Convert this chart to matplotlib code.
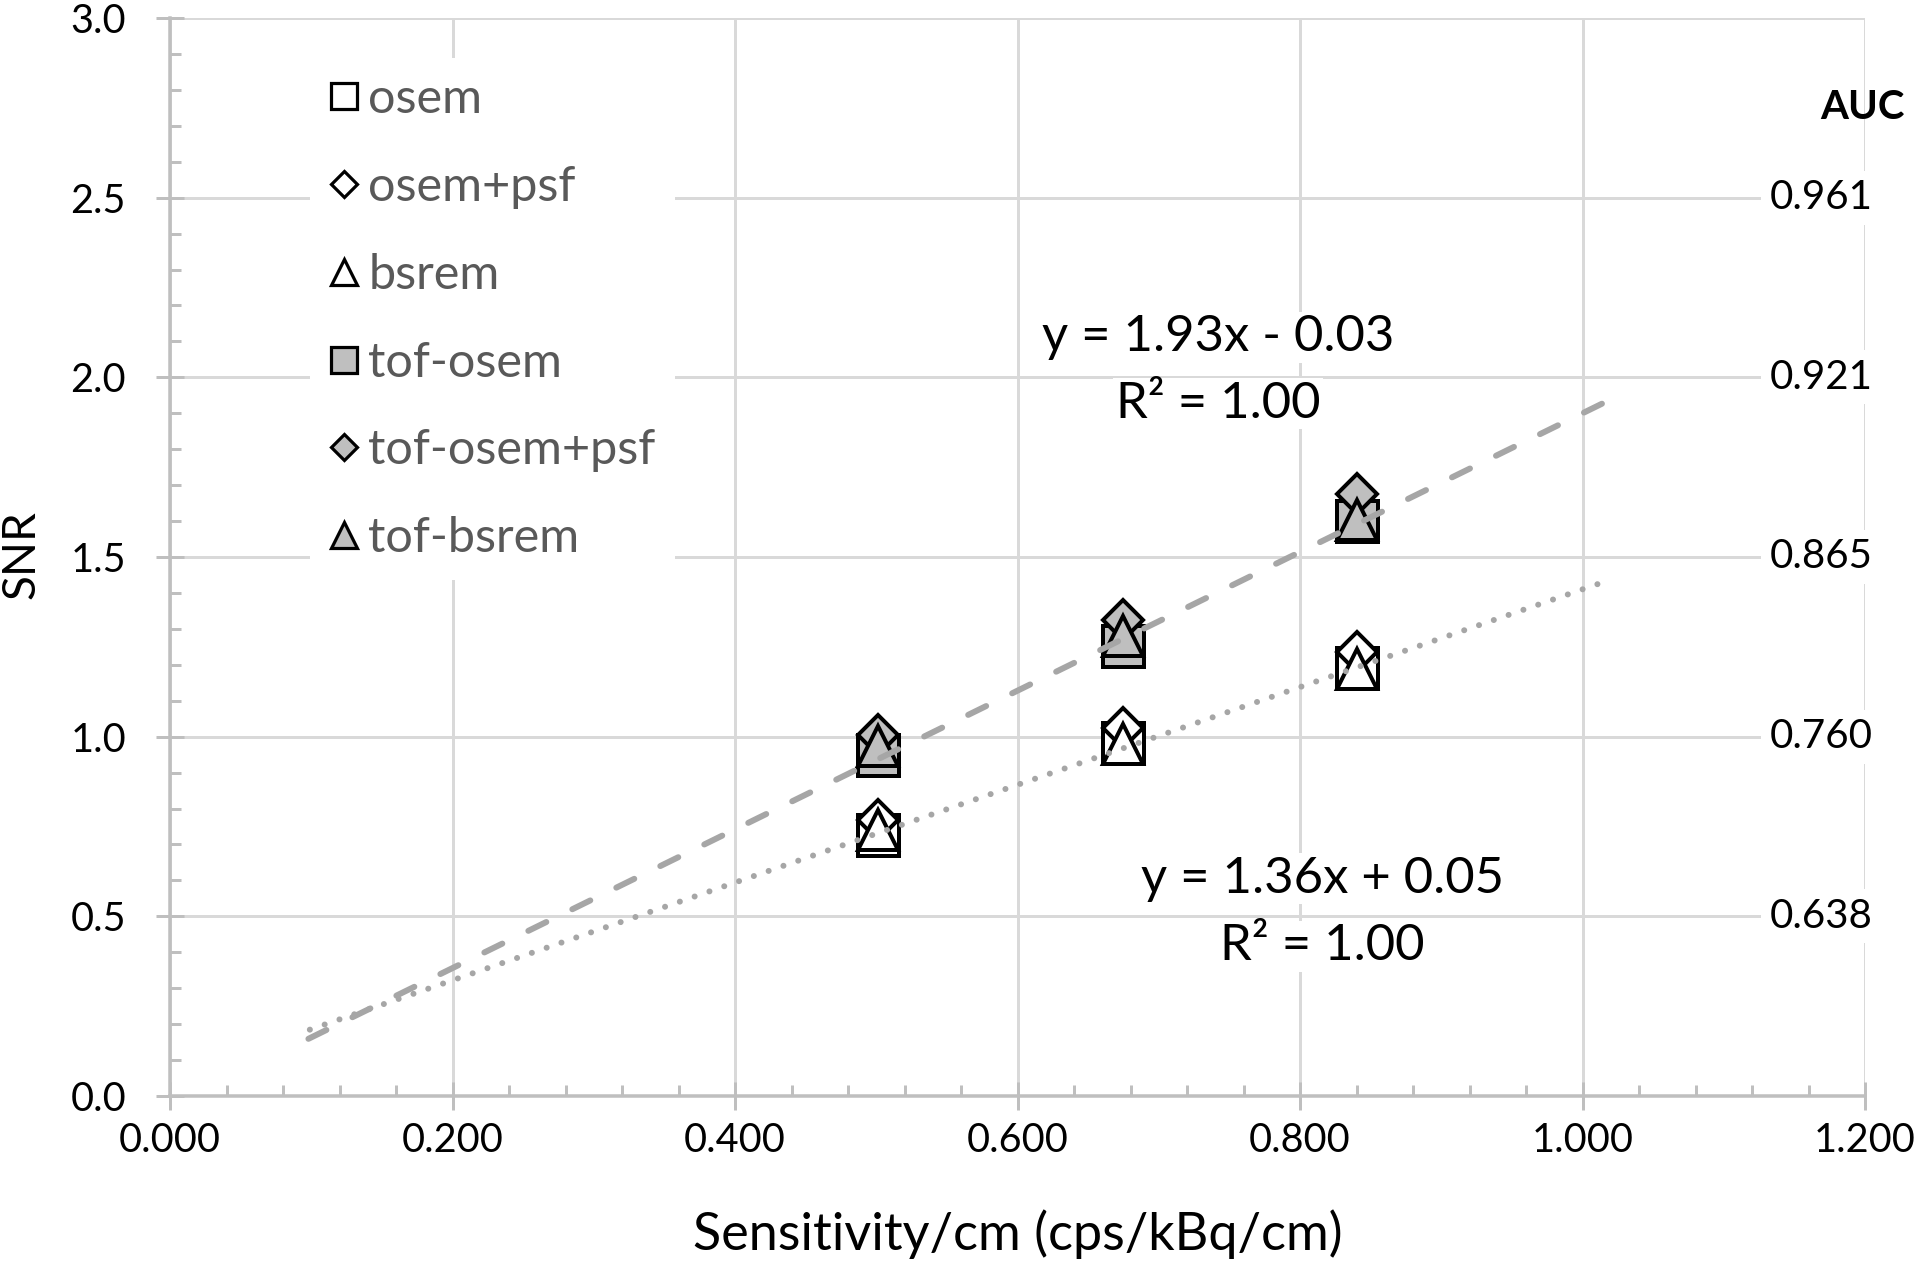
import matplotlib
matplotlib.use("Agg")
import matplotlib.pyplot as plt
from matplotlib.lines import Line2D
from matplotlib.ticker import MultipleLocator, FormatStrFormatter
import numpy as np

# ---------------- data ----------------
sensitivity = [0.501, 0.675, 0.840]
osem = [0.726, 0.982, 1.190]
osem_psf = [0.768, 1.024, 1.236]
bsrem = [0.740, 0.980, 1.188]
tof_osem = [0.948, 1.251, 1.599]
tof_osem_psf = [1.005, 1.325, 1.675]
tof_bsrem = [0.974, 1.280, 1.603]
series_names = ["osem", "osem+psf", "bsrem", "tof-osem", "tof-osem+psf", "tof-bsrem"]

# trendlines (from equations shown on the chart)
tof_fit = [1.93, -0.03]
tof_fit_x = [0.098, 1.031]
non_fit = [1.36, 0.05]
non_fit_x = [0.099, 1.017]
tof_eq = ["y = 1.93x - 0.03", "R\u00b2 = 1.00"]
non_eq = ["y = 1.36x + 0.05", "R\u00b2 = 1.00"]

# AUC labels on the right
auc_snr = [2.5, 2.0, 1.5, 1.0, 0.5]
auc_labels = ["0.961", "0.921", "0.865", "0.760", "0.638"]

# ---------------- style ----------------
plt.rcParams["font.family"] = ["Lato", "DejaVu Sans"]
DPI = 100
fig = plt.figure(figsize=(19.2, 12.63), dpi=DPI)
L, R, B, T = 170 / 1920, 1865 / 1920, 1 - 1096 / 1263, 1 - 18 / 1263
ax = fig.add_axes([L, B, R - L, T - B])

def px(v):
    return v * 72 / DPI

grid_c = "#D9D9D9"
axis_c = "#BFBFBF"
fill_tof = "#BFBFBF"
trend_c = "#A6A6A6"

ax.set_xlim(0, 1.2)
ax.set_ylim(0, 3.0)
ax.xaxis.set_major_locator(MultipleLocator(0.2))
ax.xaxis.set_minor_locator(MultipleLocator(0.04))
ax.yaxis.set_major_locator(MultipleLocator(0.5))
ax.yaxis.set_minor_locator(MultipleLocator(0.1))
ax.xaxis.set_major_formatter(FormatStrFormatter("%.3f"))
ax.yaxis.set_major_formatter(FormatStrFormatter("%.1f"))
ax.grid(True, which="major", color=grid_c, lw=px(3), zorder=0)
ax.set_axisbelow(True)
for s in ["top", "right"]:
    ax.spines[s].set_visible(False)
for s in ["left", "bottom"]:
    ax.spines[s].set_color(axis_c)
    ax.spines[s].set_linewidth(px(3.5))
ax.tick_params(axis="both", which="major", direction="inout", length=px(28),
               width=px(3), color=axis_c, labelsize=28.5, labelcolor="black")
ax.tick_params(axis="both", which="minor", direction="in", length=px(11),
               width=px(3), color=axis_c)
ax.tick_params(axis="y", which="major", pad=px(30))
ax.tick_params(axis="x", which="major", pad=px(12))

# ---------------- markers ----------------
mew = px(4)
sq_ms = px(41)
di_ms = px(40) / np.sqrt(2)
tr_ms = px(40)
series = [
    (osem, "s", sq_ms, "white"),
    (osem_psf, "D", di_ms, "white"),
    (bsrem, "^", tr_ms, "white"),
    (tof_osem, "s", sq_ms, fill_tof),
    (tof_osem_psf, "D", di_ms, fill_tof),
    (tof_bsrem, "^", tr_ms, fill_tof),
]
for (vals, mk, ms, fc), name in zip(series, series_names):
    ax.plot(sensitivity, vals, linestyle="none", marker=mk, ms=ms, mfc=fc,
            mec="black", mew=mew, zorder=3, label=name)

# ---------------- trendlines ----------------
tx = np.array(tof_fit_x)
ax.plot(tx, tof_fit[0] * tx + tof_fit[1], color=trend_c, lw=px(6),
        linestyle=(0, (20 / 6, 29 / 6)), dash_capstyle="round", zorder=4)
nx = np.array(non_fit_x)
ax.plot(nx, non_fit[0] * nx + non_fit[1], color=trend_c, lw=px(6),
        linestyle=(0, (0.01, 2.6)), dash_capstyle="round", zorder=4)

bbox_w = dict(facecolor="white", edgecolor="none", pad=2)
ax.text(0.742, 2.112, tof_eq[0], fontsize=36.5, ha="center", va="center", bbox=bbox_w, zorder=5)
ax.text(0.742, 1.926, tof_eq[1], fontsize=36.5, ha="center", va="center", bbox=bbox_w, zorder=5)
ax.text(0.816, 0.604, non_eq[0], fontsize=36.5, ha="center", va="center", bbox=bbox_w, zorder=5)
ax.text(0.816, 0.417, non_eq[1], fontsize=36.5, ha="center", va="center", bbox=bbox_w, zorder=5)

# ---------------- AUC column ----------------
for yv, lab in zip(auc_snr, auc_labels):
    ax.text(1.169, yv, lab, fontsize=29, ha="center", va="center",
            bbox=dict(facecolor="white", edgecolor="none", pad=6), zorder=5, clip_on=False)
ax.text(1.2 + 40 / 1412.5, 2.75, "AUC", fontsize=29, fontweight="bold", ha="right",
        va="center", zorder=5, clip_on=False)

# ---------------- legend ----------------
handles = []
for (vals, mk, ms, fc), name in zip(series, series_names):
    scale = 0.65
    handles.append(Line2D([], [], linestyle="none", marker=mk, ms=ms * scale,
                          mfc=fc, mec="black", mew=px(3.2), label=name))
leg = ax.legend(handles=handles, loc="upper left",
                bbox_to_anchor=(310 / 1920, 1 - 58 / 1263), bbox_transform=fig.transFigure,
                fontsize=35, frameon=True, fancybox=False, borderpad=0.4,
                handlelength=0.6, handletextpad=0.2, labelspacing=0.9,
                borderaxespad=0)
leg.get_frame().set_facecolor("white")
leg.get_frame().set_edgecolor("none")
leg.get_frame().set_alpha(1)
for t in leg.get_texts():
    t.set_color("#595959")

# ---------------- axis labels ----------------
ax.set_xlabel("Sensitivity/cm (cps/kBq/cm)", fontsize=37.5, va="center")
ax.xaxis.set_label_coords(0.5, (1096 - 1234) / 1078)
ax.set_ylabel("SNR", fontsize=33, va="center")
ax.yaxis.set_label_coords((22 - 170) / 1695, (1096 - 555) / 1078)

fig.savefig("out.png", dpi=DPI)
